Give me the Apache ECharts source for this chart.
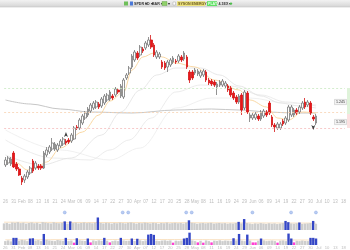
<!DOCTYPE html>
<html><head><meta charset="utf-8">
<script src="https://cdn.jsdelivr.net/npm/echarts/dist/echarts.min.js"></script>
<style>html,body{margin:0;padding:0;background:#fff}#c{width:350px;height:250px}</style>
</head><body><div id="c"></div>
<script>
// ---------- data ----------
const startDate = '2023-01-26';
const slotCount = 124;               // trading-day slots on the axis (last ones empty)
const monthNames = ['Jan','Feb','Mar','Apr','May','Jun','Jul','Aug','Sep','Oct','Nov','Dec'];

const opens = [
1.0875,1.0925,1.09,1.1175,1.09,1.0775,1.055,1.05,1.0575,1.0675,
1.0975,1.08,1.085,1.085,1.08,1.1125,1.12,1.1275,1.1275,1.125,
1.135,1.14,1.1475,1.15,1.1475,1.1525,1.1825,1.18,1.1925,1.205,
1.2125,1.2225,1.23,1.2325,1.24,1.235,1.2425,1.25,1.2525,1.26,
1.2625,1.275,1.26,1.2575,1.305,1.3175,1.3325,1.35,1.3675,1.3625,
1.3775,1.38,1.3875,1.4,1.3875,1.3575,1.3575,1.345,1.3425,1.3325,
1.3375,1.345,1.3475,1.3475,1.3575,1.3525,1.3575,1.32,1.32,1.3175,
1.315,1.31,1.3125,1.32,1.3,1.2975,1.295,1.2825,1.2875,1.2875,
1.285,1.285,1.28,1.2675,1.2575,1.245,1.2625,1.23,1.2675,1.205,
1.205,1.205,1.21,1.2025,1.21,1.22,1.2425,1.2075,1.1875,1.18,
1.18,1.1975,1.1925,1.2,1.2125,1.2125,1.225,1.22,1.23,1.245,
1.2375,1.2425,1.2075,1.1925];
const closes = [
1.1,1.105,1.1025,1.0825,1.0775,1.0625,1.045,1.06,1.07,1.08,
1.0725,1.0925,1.08,1.08,1.1175,1.125,1.1325,1.1425,1.14,1.1375,
1.1475,1.1525,1.1425,1.145,1.1625,1.18,1.18,1.2,1.21,1.2175,
1.2275,1.2375,1.2425,1.245,1.2325,1.2525,1.26,1.2625,1.27,1.255,
1.2775,1.27,1.285,1.3,1.3125,1.33,1.36,1.37,1.355,1.3825,
1.3725,1.3925,1.4,1.3825,1.3625,1.37,1.365,1.3325,1.33,1.345,
1.35,1.355,1.345,1.36,1.35,1.3675,1.3325,1.3,1.305,1.325,
1.3225,1.32,1.3225,1.3,1.2925,1.29,1.2875,1.29,1.295,1.2975,
1.2925,1.275,1.2625,1.255,1.245,1.26,1.225,1.27,1.22,1.2125,
1.2125,1.215,1.2025,1.22,1.2225,1.2125,1.2175,1.1875,1.1825,1.19,
1.19,1.19,1.205,1.2325,1.2325,1.225,1.2175,1.2325,1.2425,1.2325,
1.245,1.2175,1.2025,1.21];
const lows = [
1.0825,1.0875,1.085,1.08,1.0725,1.06,1.0375,1.0425,1.0525,1.0625,
1.0675,1.075,1.075,1.075,1.0775,1.1075,1.115,1.1225,1.1225,1.12,
1.13,1.135,1.1375,1.14,1.1425,1.15,1.175,1.175,1.1875,1.2,
1.2075,1.2175,1.225,1.2275,1.2275,1.23,1.2375,1.245,1.2475,1.25,
1.2575,1.265,1.255,1.2525,1.3,1.3125,1.3275,1.345,1.35,1.3575,
1.3675,1.375,1.3825,1.3775,1.3575,1.3525,1.3525,1.3275,1.325,1.32,
1.3325,1.34,1.34,1.3425,1.345,1.3475,1.3275,1.2925,1.3,1.3125,
1.31,1.305,1.3075,1.295,1.2875,1.285,1.2825,1.2625,1.2825,1.2825,
1.28,1.27,1.2575,1.25,1.24,1.24,1.2125,1.225,1.215,1.195,
1.2,1.2,1.1975,1.1975,1.205,1.2075,1.2125,1.1825,1.17,1.175,
1.175,1.185,1.1875,1.195,1.2075,1.2075,1.2125,1.215,1.225,1.2275,
1.2325,1.2125,1.1975,1.1875];
const highs = [
1.1075,1.11,1.1075,1.1225,1.095,1.0825,1.06,1.065,1.075,1.085,
1.1025,1.0975,1.09,1.09,1.1225,1.1325,1.1375,1.155,1.145,1.1425,
1.1525,1.1575,1.1525,1.155,1.1675,1.185,1.1875,1.205,1.215,1.2225,
1.2325,1.2425,1.2475,1.25,1.245,1.2575,1.265,1.2675,1.275,1.265,
1.2825,1.28,1.29,1.305,1.3175,1.335,1.365,1.375,1.3725,1.3875,
1.3825,1.3975,1.4075,1.4125,1.3925,1.375,1.37,1.35,1.3475,1.35,
1.355,1.36,1.3525,1.365,1.3625,1.3725,1.3625,1.325,1.325,1.33,
1.3275,1.325,1.3275,1.325,1.305,1.3025,1.3,1.295,1.3,1.3025,
1.2975,1.29,1.285,1.2725,1.2625,1.265,1.2675,1.275,1.2725,1.2175,
1.2175,1.22,1.215,1.225,1.2275,1.225,1.2475,1.2125,1.1925,1.195,
1.195,1.2025,1.21,1.2375,1.2375,1.23,1.23,1.2375,1.2475,1.255,
1.25,1.2475,1.2125,1.215];

// moving-average lines read at sample points (slot index, price)
const emaIdx = [0,4,8,11,15,20,28,34,38,43,46,50,54,57,62,69,76,85,89,95,99,103,108,113];
const emaVal = [1.095,1.0925,1.075,1.08,1.095,1.13,1.17,1.2125,1.2475,1.27,1.325,1.3575,1.3675,1.3575,1.3425,1.3325,1.3,1.275,1.25,1.2325,1.205,1.2,1.22,1.2175];
const ma20Idx = [0,13,24,35,42,49,55,62,71,78,85,93,100,107,113];
const ma20Val = [1.1125,1.0875,1.105,1.1625,1.22,1.275,1.3125,1.33,1.33,1.3125,1.285,1.26,1.2425,1.235,1.23];
const ma50Idx = [0,17,31,38,45,53,62,71,82,93,102,113];
const ma50Val = [1.15,1.105,1.1,1.125,1.15,1.205,1.27,1.2875,1.285,1.2625,1.245,1.235];
const ma100Idx = [0,20,38,49,62,75,89,102,113];
const ma100Val = [1.175,1.125,1.1,1.13,1.23,1.255,1.255,1.2425,1.2375];
const ma200Idx = [0,9,20,31,46,62,75,85,96,104,113];
const ma200Val = [1.25,1.24,1.2275,1.22,1.2175,1.225,1.2275,1.225,1.22,1.2175,1.2175];

// horizontal levels and price tags
const levelValues = [1.28, 1.215, 1.18];
const levelColors = ['#c9e8c2', '#f7d2b0', '#f5bcbc'];
const tagValues = [1.245, 1.195];

// signal arrows (slot index, price)
const upArrowIdx = [22];  const upArrowVal = [1.17];
const dnArrowIdx = [112]; const dnArrowVal = [1.175];

// volume panel 1
const vol1 = [
42,45,40,48,46,50,44,47,41,45, 48,43,46,40,50,47,44,42,49,45,
43,46,55,41,55,44,47,42,45,48, 44,46,43,47,80,45,42,46,44,41,
45,43,47,44,42,46,48,44,41,45, 43,47,45,42,46,44,40,45,43,47,
42,44,46,43,45,41,47,62,46,44, 40,43,45,42,44,46,41,43,45,42,
44,40,43,41,45,52,42,70,44,41, 38,42,40,44,41,39,43,40,42,38,
41,44,58,50,42,40,43,48,39,41, 42,44,58,40];
const vol1Blue = [22,24,34,67,85,87,102,103,107,112];
const vol1Dots = [22,43,45,66,68,90,104,113];
const vol1AvgIdx = [0,30,60,90,113];
const vol1AvgVal = [50,48,47,45,44];

// volume panel 2
const vol2 = [
30,35,28,55,55,33,40,36,30,50, 52,34,38,30,85,40,35,32,30,38,
35,32,55,30,34,18,52,36,33,31, 50,20,35,30,36,32,55,33,20,30,
34,30,55,35,32,33,50,31,48,36, 30,35,80,85,78,33,30,34,36,32,
35,18,33,30,34,50,55,95,35,30, 20,32,18,35,30,20,33,31,36,30,
34,32,30,52,35,85,33,30,80,34, 20,20,33,50,35,30,32,34,30,18,
33,35,30,88,50,20,32,30,34,31, 30,55,55,50];
const vol2Blue = [3,4,9,10,14,22,26,30,36,42,46,48,52,53,54,65,66,67,83,85,88,93,103,104,111,112,113];
const vol2Pink = [25,31,38,61,70,72,75,90,91,99,105];
const vol2AvgIdx = [0,50,113];
const vol2AvgVal = [40,42,38];

// ---------- build ----------
function businessDays(start, n) {
  const out = []; const d = new Date(start + 'T00:00:00Z');
  while (out.length < n) {
    const w = d.getUTCDay();
    if (w !== 0 && w !== 6) out.push(d.toISOString().slice(0, 10));
    d.setUTCDate(d.getUTCDate() + 1);
  }
  return out;
}
const cats = businessDays(startDate, slotCount);
const monthOf = i => Number(cats[i].slice(5, 7));
const labelFmt = (v, i) => (i >= 3 && monthOf(i) !== monthOf(i - 3)) ? monthNames[monthOf(i) - 1] : v.slice(8, 10);
const pairs = (a, b) => a.map((x, k) => [x, b[k]]);
const candleData = opens.map((o, i) => [o, closes[i], lows[i], highs[i]]);

const GL = 2.62, GR = 5.1;
const FONT = 'Liberation Sans';

function xAxisFor(gridIndex, showLabels, margin, size) {
  return {
    type: 'category', gridIndex, data: cats, boundaryGap: true,
    axisLine: { show: false }, axisTick: { show: false }, splitLine: { show: false },
    axisLabel: { show: showLabels, interval: (i) => i % 3 === 0, formatter: labelFmt,
      fontSize: size, color: '#bdbdbd', margin, fontFamily: FONT, hideOverlap: false }
  };
}
function lineSeries(idx, val, color, width, xi, yi) {
  return { type: 'line', xAxisIndex: xi, yAxisIndex: yi, data: pairs(idx, val), smooth: 0.35, smoothMonotone: 'x',
    showSymbol: false, silent: true, lineStyle: { color, width }, z: 1 };
}

const chart = echarts.init(document.getElementById('c'), null, { renderer: 'canvas' });
chart.setOption({
  animation: false,
  backgroundColor: '#ffffff',
  grid: [
    { left: GL, right: GR, top: 10, height: 180 },
    { left: GL, right: GR, top: 212, height: 18 },
    { left: GL, right: GR, top: 232, height: 13 }
  ],
  xAxis: [ xAxisFor(0, true, 9, 4.5), xAxisFor(1, false, 1, 4), xAxisFor(2, true, 1, 4.2) ],
  yAxis: [
    { type: 'value', gridIndex: 0, min: 1.025, max: 1.475, show: false },
    { type: 'value', gridIndex: 1, min: 0, max: 115, show: false },
    { type: 'value', gridIndex: 2, min: 0, max: 100, show: false }
  ],
  series: [
    lineSeries(ma100Idx, ma100Val, '#ececec', 0.8, 0, 0),
    lineSeries(ma50Idx, ma50Val, '#e7e7e7', 0.8, 0, 0),
    lineSeries(ma20Idx, ma20Val, '#e2e2e2', 0.8, 0, 0),
    lineSeries(ma200Idx, ma200Val, '#c0c0c0', 0.9, 0, 0),
    lineSeries(emaIdx, emaVal, '#f8d49a', 0.9, 0, 0),
    {
      type: 'candlestick', xAxisIndex: 0, yAxisIndex: 0, data: candleData, barWidth: 2.2, z: 3,
      itemStyle: { color: '#ffffff', color0: '#e8161b', borderColor: '#777777', borderColor0: '#d41414', borderWidth: 0.8 },
      markLine: { silent: true, symbol: ['none', 'none'], label: { show: false },
        data: levelValues.map((v, k) => ({ yAxis: v, lineStyle: { color: levelColors[k], type: [2, 2], width: 0.8 } })) }
    },
    { type: 'scatter', xAxisIndex: 0, yAxisIndex: 0, data: pairs(upArrowIdx, upArrowVal), symbol: 'arrow', symbolSize: [3, 5], itemStyle: { color: '#111' }, z: 5, silent: true },
    { type: 'scatter', xAxisIndex: 0, yAxisIndex: 0, data: pairs(dnArrowIdx, dnArrowVal), symbol: 'arrow', symbolRotate: 180, symbolSize: [3, 5], itemStyle: { color: '#111' }, z: 5, silent: true },
    {
      type: 'bar', xAxisIndex: 1, yAxisIndex: 1, barWidth: 2.4, silent: true,
      data: vol1.map((v, i) => ({ value: v, itemStyle: { color: vol1Blue.includes(i) ? '#3446c6' : '#cdcdcd' } }))
    },
    lineSeries(vol1AvgIdx, vol1AvgVal, '#f7d4a8', 0.7, 1, 1),
    { type: 'scatter', xAxisIndex: 1, yAxisIndex: 1, data: vol1Dots.map(i => [i, 112]), symbol: 'circle', symbolSize: 3,
      itemStyle: { color: '#a9c0ef', borderColor: '#7a9be0', borderWidth: 0.5 }, silent: true },
    {
      type: 'bar', xAxisIndex: 2, yAxisIndex: 2, barWidth: 2.4, silent: true,
      data: vol2.map((v, i) => ({ value: v, itemStyle: { color: vol2Blue.includes(i) ? '#3446c6' : (vol2Pink.includes(i) ? '#ff3fd2' : '#cdcdcd') } }))
    },
    lineSeries(vol2AvgIdx, vol2AvgVal, '#f7d4a8', 0.7, 2, 2)
  ]
});

// ---------- decorations (toolbar, price tags, level strips) ----------
const py = v => chart.convertToPixel({ yAxisIndex: 0 }, v);
const g = [];
g.push({ type: 'rect', shape: { x: 0, y: 0, width: 350, height: 7 }, silent: true,
  style: { fill: new echarts.graphic.LinearGradient(0, 0, 0, 1, [{ offset: 0, color: '#f2f2f2' }, { offset: 1, color: '#d5d5d5' }]) } });
g.push({ type: 'line', shape: { x1: 0, y1: 7, x2: 350, y2: 7 }, style: { stroke: '#c2c2c2', lineWidth: 0.6 }, silent: true });
g.push({ type: 'rect', shape: { x: 124, y: 1.5, width: 4, height: 4 }, style: { fill: '#6fbf5a' }, silent: true });
g.push({ type: 'rect', shape: { x: 130, y: 1.5, width: 3, height: 4 }, style: { fill: '#4a78d8' }, silent: true });
const tbText = (x, t, color) => g.push({ type: 'text', x, y: 3.6, silent: true,
  style: { text: t, fontSize: 3.6, fontFamily: FONT, fill: color || '#333', verticalAlign: 'middle', fontWeight: 'bold' } });
tbText(134, 'SPDR ▾'); tbText(145, '1D ▾'); tbText(152, 'BAR ▾');
g.push({ type: 'rect', shape: { x: 162, y: 1.5, width: 5, height: 4 }, style: { fill: '#8fd06a', stroke: '#5a9a40', lineWidth: 0.4 }, silent: true });
tbText(168, '▾');
g.push({ type: 'rect', shape: { x: 173, y: 2, width: 2.5, height: 3 }, style: { fill: '#fff', stroke: '#999', lineWidth: 0.4 }, silent: true });
g.push({ type: 'rect', shape: { x: 177, y: 1.2, width: 28, height: 4.8 }, style: { fill: '#ece27e' }, silent: true });
tbText(178, 'SYSON ENERGY CORP', '#6b5a20');
g.push({ type: 'rect', shape: { x: 207, y: 1.2, width: 10, height: 4.8 }, style: { fill: '#5fe064' }, silent: true });
tbText(208, 'PLATS', '#e8ffe8');
tbText(218.5, '4.1EX ▾');
g.push({ type: 'circle', shape: { cx: 231, cy: 3.6, r: 1.2 }, style: { fill: '#4bbf4b' }, silent: true });

// right-edge level strips
g.push({ type: 'rect', shape: { x: 347, y: py(levelValues[0]), width: 3, height: py(levelValues[1]) - py(levelValues[0]) }, style: { fill: '#dff3da' }, silent: true });
g.push({ type: 'rect', shape: { x: 347, y: py(levelValues[1]), width: 3, height: py(levelValues[2]) - py(levelValues[1]) }, style: { fill: '#fbe0e0' }, silent: true });
// price tags
tagValues.forEach(v => {
  const y = py(v);
  g.push({ type: 'rect', shape: { x: 334.5, y: y - 2.6, width: 12, height: 5.2 }, style: { fill: '#f3f3f3', stroke: '#bdbdbd', lineWidth: 0.5 }, silent: true, z: 10 });
  g.push({ type: 'text', x: 340.5, y: y, silent: true, z: 11,
    style: { text: v.toFixed(3), fontSize: 3.6, fontFamily: FONT, fill: '#333', align: 'center', verticalAlign: 'middle' } });
});
chart.setOption({ graphic: g });
</script>
</body></html>
